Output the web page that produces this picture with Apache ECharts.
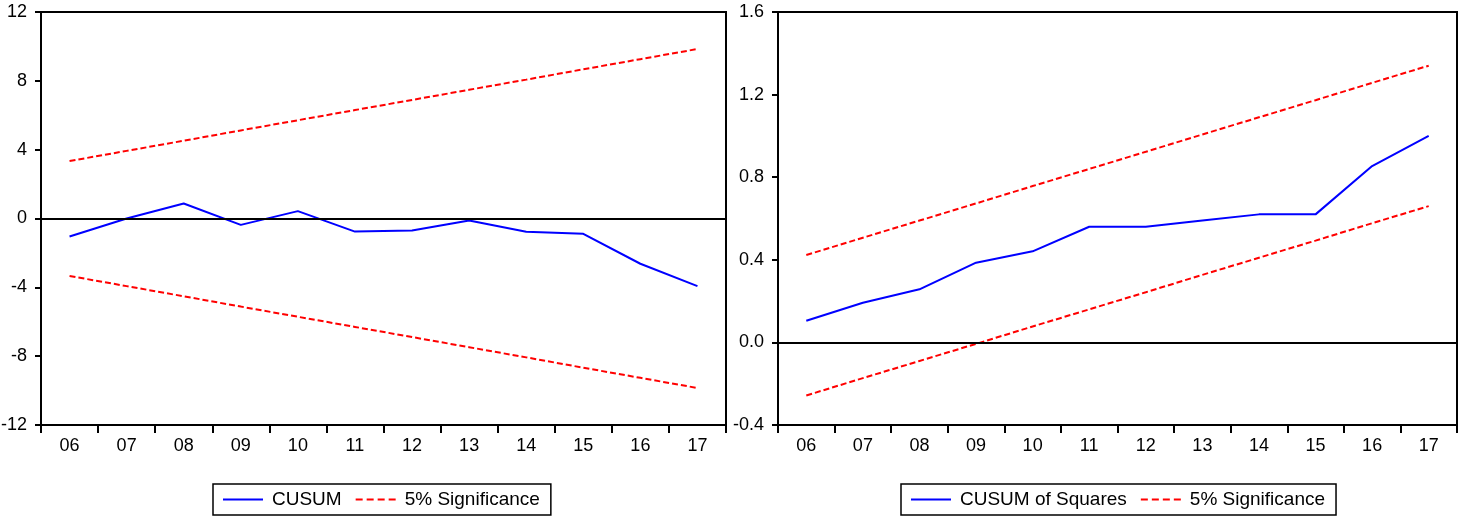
<!DOCTYPE html>
<html>
<head>
<meta charset="utf-8">
<script src="https://cdn.jsdelivr.net/npm/echarts@6/dist/echarts.min.js"></script>
<style>
html,body{margin:0;padding:0;background:#fff;}
#c{width:1460px;height:518px;}
</style>
</head>
<body>
<div id="c"></div>
<script>
var categories = ['06','07','08','09','10','11','12','13','14','15','16','17'];
var cusum = [-1.05, 0.0, 0.87, -0.37, 0.43, -0.76, -0.70, -0.12, -0.77, -0.89, -2.63, -3.93];
var cusumUpper = [3.34, 3.93, 4.52, 5.12, 5.71, 6.30, 6.89, 7.48, 8.07, 8.67, 9.26, 9.85];
var cusumLower = [-3.34, -3.93, -4.52, -5.12, -5.71, -6.30, -6.89, -7.48, -8.07, -8.67, -9.26, -9.85];
var cusumSq = [0.105, 0.192, 0.257, 0.386, 0.441, 0.56, 0.56, 0.59, 0.62, 0.62, 0.854, 1.0];
var sqUpper = [0.423, 0.507, 0.59, 0.673, 0.757, 0.84, 0.923, 1.007, 1.09, 1.173, 1.257, 1.34];
var sqLower = [-0.257, -0.173, -0.09, -0.007, 0.077, 0.16, 0.243, 0.327, 0.41, 0.493, 0.577, 0.66];
var leftTicks = {min: -12, max: 12, interval: 4};
var rightTicks = {min: -0.4, max: 1.6, interval: 0.4};

var FONT = "'Liberation Sans', Arial, sans-serif";
var chart = echarts.init(document.getElementById('c'));

var SOLID_ICON = 'path://M0,0h40v2h-40z';
var DASH_ICON = 'path://M0,0h7v2h-7zM11,0h7v2h-7zM22,0h7v2h-7zM33,0h7v2h-7z';

function xAxis(gi) {
  return {
    type: 'category', gridIndex: gi, data: categories, boundaryGap: true,
    axisLine: {onZero: false, lineStyle: {color: '#000', width: 2}},
    axisTick: {show: true, inside: false, length: 8, lineStyle: {color: '#000', width: 2}},
    axisLabel: {color: '#000', fontSize: 18, fontFamily: FONT, margin: 12},
    splitLine: {show: false}
  };
}
function yAxis(gi, t, dec) {
  return {
    type: 'value', gridIndex: gi, min: t.min, max: t.max, interval: t.interval,
    axisLine: {show: true, lineStyle: {color: '#000', width: 2}},
    axisTick: {show: true, inside: false, length: 6, lineStyle: {color: '#000', width: 2}},
    axisLabel: {color: '#000', fontSize: 18, fontFamily: FONT, margin: 14,
      formatter: function (v) { return dec ? v.toFixed(1) : String(Math.round(v)); }},
    splitLine: {show: false}
  };
}
var zeroLine = {
  silent: true, symbol: 'none', label: {show: false},
  lineStyle: {color: '#000', width: 2, type: 'solid'},
  emphasis: {disabled: true},
  data: [{yAxis: 0}]
};
function blue(name, data, gi, mark) {
  var s = {name: name, type: 'line', xAxisIndex: gi, yAxisIndex: gi, data: data,
    symbol: 'none', showSymbol: false, animation: false,
    lineStyle: {color: '#0000ff', width: 2}, itemStyle: {color: '#0000ff'}};
  if (mark) s.markLine = zeroLine;
  return s;
}
function red(data, gi) {
  return {name: '5% Significance', type: 'line', xAxisIndex: gi, yAxisIndex: gi, data: data,
    symbol: 'none', showSymbol: false, animation: false,
    lineStyle: {color: '#ff0000', width: 2, type: [6, 3]}, itemStyle: {color: '#ff0000'}};
}
function legend(names, left) {
  return {
    data: [
      {name: names[0], icon: SOLID_ICON, itemStyle: {color: '#0000ff'}},
      {name: names[1], icon: DASH_ICON, itemStyle: {color: '#ff0000'}}
    ],
    left: left, top: 484, orient: 'horizontal',
    itemWidth: 40, itemHeight: 2, itemGap: 14, symbolKeepAspect: false,
    borderColor: '#000', borderWidth: 1.5, padding: [6, 11, 6, 10],
    textStyle: {color: '#000', fontSize: 19, fontFamily: FONT, padding: [0, 0, 0, 4]},
    selectedMode: false
  };
}

chart.setOption({
  animation: false,
  backgroundColor: '#fff',
  grid: [
    {left: 41, right: 734, top: 12, bottom: 93, show: true, borderColor: '#000', borderWidth: 2,
     backgroundColor: 'transparent', containLabel: false, outerBoundsMode: 'none'},
    {left: 778, right: 3, top: 12, bottom: 93, show: true, borderColor: '#000', borderWidth: 2,
     backgroundColor: 'transparent', containLabel: false, outerBoundsMode: 'none'}
  ],
  xAxis: [xAxis(0), xAxis(1)],
  yAxis: [yAxis(0, leftTicks, false), yAxis(1, rightTicks, true)],
  legend: [
    legend(['CUSUM', '5% Significance'], 213),
    legend(['CUSUM of Squares', '5% Significance'], 901)
  ],
  series: [
    blue('CUSUM', cusum, 0, true),
    red(cusumUpper, 0),
    red(cusumLower, 0),
    blue('CUSUM of Squares', cusumSq, 1, true),
    red(sqUpper, 1),
    red(sqLower, 1)
  ]
});
</script>
</body>
</html>
